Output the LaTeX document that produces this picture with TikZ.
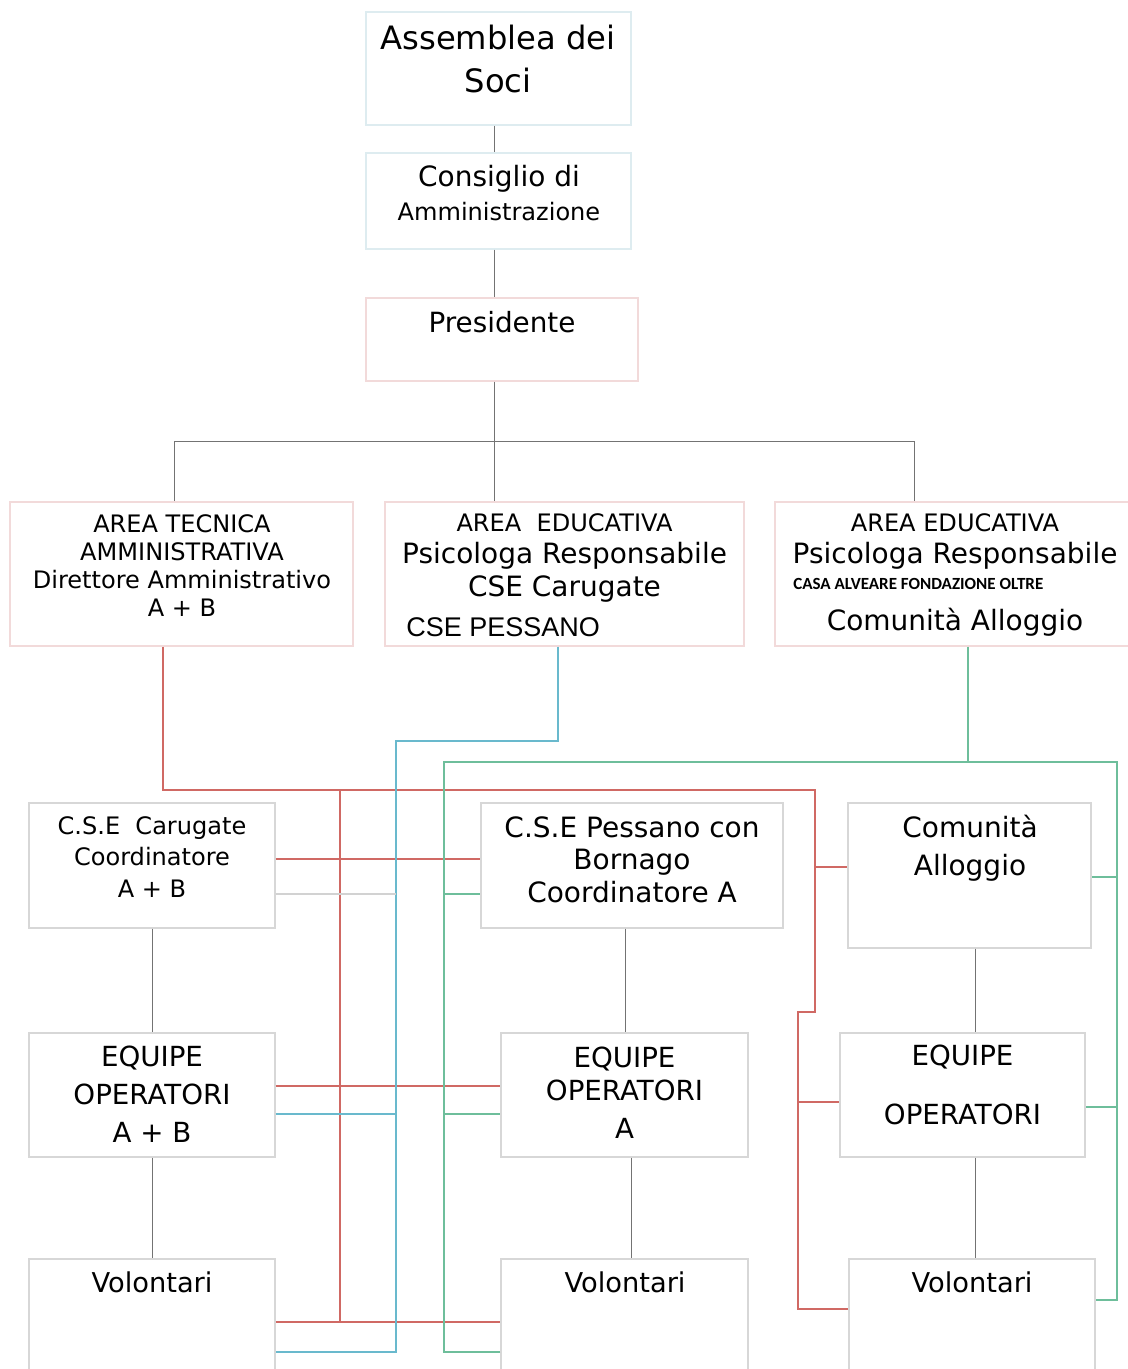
\documentclass[tikz,border=0pt]{standalone}
\usepackage{fontspec}
\setmainfont{DejaVu Sans}
\newfontfamily\arialfont{Liberation Sans}
\newfontfamily\carlitofont{Carlito}
\usetikzlibrary{fit}

\definecolor{linered}{RGB}{208,105,100}
\definecolor{linecyan}{RGB}{105,185,205}
\definecolor{linegreen}{RGB}{110,190,155}
\definecolor{linegray}{RGB}{115,115,115}
\definecolor{palegray}{RGB}{210,210,210}
\definecolor{boxgray}{RGB}{215,215,215}
\definecolor{boxblue}{RGB}{222,236,240}
\definecolor{boxpink}{RGB}{242,218,218}

\tikzset{
  box/.style={draw=boxgray, line width=0.8pt, inner sep=0pt},
  txt/.style={anchor=base, align=center, inner sep=0pt},
  conn/.style={draw=linegray, line width=0.7pt},
  redline/.style={draw=linered, line width=0.9pt},
  cyanline/.style={draw=linecyan, line width=0.9pt},
  greenline/.style={draw=linegreen, line width=0.9pt},
}

\begin{document}
\begin{tikzpicture}[x=0.025cm, y=-0.025cm]
  \useasboundingbox (0,0) rectangle (1128,1369);

  % Coordinates
  \coordinate (trunk) at (494,441);
  \coordinate (busL) at (174,441);
  \coordinate (busR) at (914,441);
  \coordinate (rA) at (163,790);
  \coordinate (rM) at (340,790);
  \coordinate (rR) at (815,790);
  \coordinate (rjog) at (815,1012);
  \coordinate (rjog2) at (798,1012);
  \coordinate (rend) at (798,1309);
  \coordinate (rbot) at (340,1322);
  \coordinate (rB) at (340,859);
  \coordinate (rC) at (340,1086);
  \coordinate (rB3) at (815,867);
  \coordinate (rC3) at (798,1102);
  \coordinate (cA) at (558,741);
  \coordinate (cL) at (396,741);
  \coordinate (cbot) at (396,1352);
  \coordinate (cB) at (396,894);
  \coordinate (cC) at (396,1114);
  \coordinate (gA) at (968,762);
  \coordinate (gL) at (444,762);
  \coordinate (gR) at (1117,762);
  \coordinate (gLbot) at (444,1352);
  \coordinate (gRbot) at (1117,1300);
  \coordinate (gB) at (444,894);
  \coordinate (gC) at (444,1114);
  \coordinate (gB3) at (1117,877);
  \coordinate (gC3) at (1117,1107);

  % Top boxes (text nodes sit on the baseline of their last line)
  \node[box, draw=boxblue, fit={(366,12) (631,125)}] (assemblea) {};
  \node[txt, font=\fontsize{22.9}{29.9}\selectfont] (assemblea-t) at (498,92)
    {Assemblea dei\\Soci};
  \node[box, draw=boxblue, fit={(366,153) (631,249)}] (consiglio) {};
  \node[txt, font=\fontsize{19.9}{23.5}\selectfont] (consiglio-t) at (499,220)
    {Consiglio di\\{\fontsize{17.1}{23.5}\selectfont Amministrazione}};
  \node[box, draw=boxpink, fit={(366,298) (638,381)}] (presidente) {};
  \node[txt, font=\fontsize{19.8}{24}\selectfont] (presidente-t) at (502,332)
    {Presidente};

  % Areas
  \node[box, draw=boxpink, fit={(10,502) (353,646)}] (area1) {};
  \node[txt, font=\fontsize{17.1}{19.9}\selectfont] (area1-t) at (182,616)
    {AREA TECNICA\\AMMINISTRATIVA\\Direttore Amministrativo\\A + B};
  \node[box, draw=boxpink, fit={(385,502) (744,646)}] (area2) {};
  \node[txt, font=\fontsize{19.9}{22.8}\selectfont] (area2-t) at (564.5,596)
    {{\fontsize{17.1}{22.8}\selectfont AREA\ \ EDUCATIVA}\\Psicologa Responsabile\\CSE Carugate};
  \node[anchor=base west, inner sep=0pt, font=\arialfont\fontsize{19.2}{22}\selectfont]
    (pessano-t) at (406,636) {CSE PESSANO};
  \node[box, draw=boxpink, fit={(775,502) (1140,646)}] (area3) {};
  \node[txt, font=\fontsize{19.9}{22.5}\selectfont] (area3-t) at (955,563)
    {{\fontsize{17.1}{22.5}\selectfont AREA EDUCATIVA}\\Psicologa Responsabile};
  \node[anchor=base west, inner sep=0pt, font=\carlitofont\bfseries\fontsize{12.1}{14}\selectfont]
    (casa-t) at (793,589) {CASA ALVEARE FONDAZIONE OLTRE};
  \node[txt, font=\fontsize{19.9}{22.5}\selectfont] (alloggio-t) at (955,630)
    {Comunità Alloggio};

  % Coordinators
  \node[box, fit={(29,803) (275,928)}] (cse1) {};
  \node[txt, font=\fontsize{17.1}{22.4}\selectfont] (cse1-t) at (152,897)
    {C.S.E\ \ Carugate\\Coordinatore\\A + B};
  \node[box, fit={(481,803) (783,928)}] (cse2) {};
  \node[txt, font=\fontsize{19.9}{23.1}\selectfont] (cse2-t) at (632,902)
    {C.S.E Pessano con\\Bornago\\Coordinatore A};
  \node[box, fit={(848,803) (1091,948)}] (com) {};
  \node[txt, font=\fontsize{19.9}{27}\selectfont] (com-t) at (970,875)
    {Comunità\\Alloggio};

  % Equipes
  \node[box, fit={(29,1033) (275,1157)}] (eq1) {};
  \node[txt, font=\fontsize{19.7}{26.7}\selectfont] (eq1-t) at (152,1142)
    {EQUIPE\\OPERATORI\\A + B};
  \node[box, fit={(501,1033) (748,1157)}] (eq2) {};
  \node[txt, font=\fontsize{19.7}{23.5}\selectfont] (eq2-t) at (624.5,1138)
    {EQUIPE\\OPERATORI\\[3.5pt]A};
  \node[box, fit={(840,1033) (1085,1157)}] (eq3) {};
  \node[txt, font=\fontsize{19.7}{41.3}\selectfont] (eq3-t) at (962.5,1124)
    {EQUIPE\\OPERATORI};

  % Volontari
  \node[box, fit={(29,1259) (275,1390)}] (vol1) {};
  \node[txt, font=\fontsize{19.4}{24}\selectfont] (vol1-t) at (152,1292) {Volontari};
  \node[box, fit={(501,1259) (748,1390)}] (vol2) {};
  \node[txt, font=\fontsize{19.4}{24}\selectfont] (vol2-t) at (625,1292) {Volontari};
  \node[box, fit={(849,1259) (1095,1390)}] (vol3) {};
  \node[txt, font=\fontsize{19.4}{24}\selectfont] (vol3-t) at (972,1292) {Volontari};

  % Gray lines
  \draw[conn] (assemblea.south -| trunk) -- (consiglio.north -| trunk);
  \draw[conn] (consiglio.south -| trunk) -- (presidente.north -| trunk);
  \draw[conn] (presidente.south -| trunk) -- (trunk);
  \draw[conn] (busL) -- (busR);
  \draw[conn] (busL) -- (area1.north -| busL);
  \draw[conn] (trunk) -- (area2.north -| trunk);
  \draw[conn] (busR) -- (area3.north -| busR);
  \draw[conn] (cse1) -- (eq1);
  \draw[conn] (eq1) -- (vol1);
  \draw[conn] (cse2.south -| 625,0) -- (eq2.north -| 625,0);
  \draw[conn] (eq2.south -| 631,0) -- (vol2.north -| 631,0);
  \draw[conn] (com.south -| 975,0) -- (eq3.north -| 975,0);
  \draw[conn] (eq3.south -| 975,0) -- (vol3.north -| 975,0);

  % Red lines
  \draw[redline] (area1.south -| rA) -- (rA) -- (rR) -- (rjog) -- (rjog2) -- (rend)
    -- (rend -| vol3.west);
  \draw[redline] (rM) -- (rbot);
  \draw[redline] (vol1.east |- rbot) -- (vol2.west |- rbot);
  \draw[redline] (cse1.east |- rB) -- (cse2.west |- rB);
  \draw[redline] (eq1.east |- rC) -- (eq2.west |- rC);
  \draw[redline] (rB3) -- (rB3 -| com.west);
  \draw[redline] (rC3) -- (rC3 -| eq3.west);

  % Cyan lines
  \draw[cyanline] (area2.south -| cA) -- (cA) -- (cL) -- (cbot) -- (cbot -| vol1.east);
  \draw[draw=palegray, line width=0.9pt] (cse1.east |- cB) -- (cB);
  \draw[cyanline] (eq1.east |- cC) -- (cC);

  % Green lines
  \draw[greenline] (area3.south -| gA) -- (gA);
  \draw[greenline] (gLbot -| vol2.west) -- (gLbot) -- (gL) -- (gR) -- (gRbot)
    -- (gRbot -| vol3.east);
  \draw[greenline] (gB) -- (gB -| cse2.west);
  \draw[greenline] (gC) -- (gC -| eq2.west);
  \draw[greenline] (gB3) -- (gB3 -| com.east);
  \draw[greenline] (gC3) -- (gC3 -| eq3.east);
\end{tikzpicture}
\end{document}
